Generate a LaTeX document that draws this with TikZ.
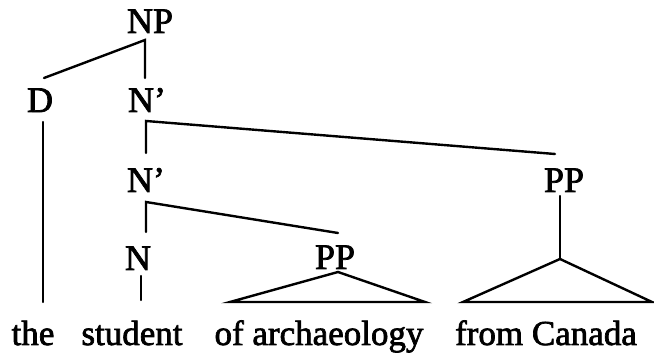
\documentclass[tikz,border=0pt]{standalone}
\usepackage{fontspec}
\setmainfont{Liberation Serif}[BoldFont={Liberation Serif},BoldFeatures={FakeBold=2}]
\begin{document}
\begin{tikzpicture}[x=0.5pt,y=-0.5pt,
  lab/.style={inner sep=0pt,anchor=base,font=\fontsize{18}{21}\selectfont\bfseries},
  word/.style={inner sep=0pt,anchor=base,font=\fontsize{17.5}{21}\selectfont\bfseries},
  br/.style={line width=1.2pt,line cap=round,line join=miter}]
\useasboundingbox[fill=white] (0,0) rectangle (654,356);
% labels
\node[lab] (np) at (150,33) {NP};
\node[lab] (d) at (40,112) {D};
\node[lab] (nb1) at (147,112) {N’};
\node[lab] (nb2) at (146,192) {N’};
\node[lab] (n) at (138,270) {N};
\node[lab] (pp1) at (335,269) {PP};
\node[lab] (pp2) at (564,192) {PP};
% words
\node[word] (w1) at (33,345) {the};
\node[word] (w2) at (132,345) {student};
\node[word] (w3) at (319,345) {of archaeology};
\node[word] (w4) at (546,345) {from Canada};
% branch points
\coordinate (npb) at (145,40);
\coordinate (dt) at (44,78);
\coordinate (nb1t) at (145,78);
\coordinate (db) at (43,122);
\coordinate (de) at (43,302);
\coordinate (nb1b) at (146,121);
\coordinate (nb2t) at (146,153);
\coordinate (pp2t) at (555,154);
\coordinate (nb2b) at (146,202);
\coordinate (nt) at (146,232);
\coordinate (pp1t) at (338,233);
\coordinate (nb) at (141,276);
\coordinate (ne) at (141,300);
\coordinate (pp1a) at (338,272);
\coordinate (pp1l) at (230,302);
\coordinate (pp1r) at (425,302);
\coordinate (pp2b) at (560,196);
\coordinate (pp2a) at (560,259);
\coordinate (pp2l) at (463,302);
\coordinate (pp2r) at (652,302);
% connectors
\draw[br] (dt) -- (npb) -- (nb1t);
\draw[br] (db) -- (de);
\draw[br] (nb2t) -- (nb1b) -- (pp2t);
\draw[br] (nt) -- (nb2b) -- (pp1t);
\draw[br] (nb) -- (ne);
\draw[br] (pp1l) -- (pp1a) -- (pp1r) -- cycle;
\draw[br] (pp2b) -- (pp2a);
\draw[br] (pp2l) -- (pp2a) -- (pp2r) -- cycle;
\end{tikzpicture}
\end{document}
